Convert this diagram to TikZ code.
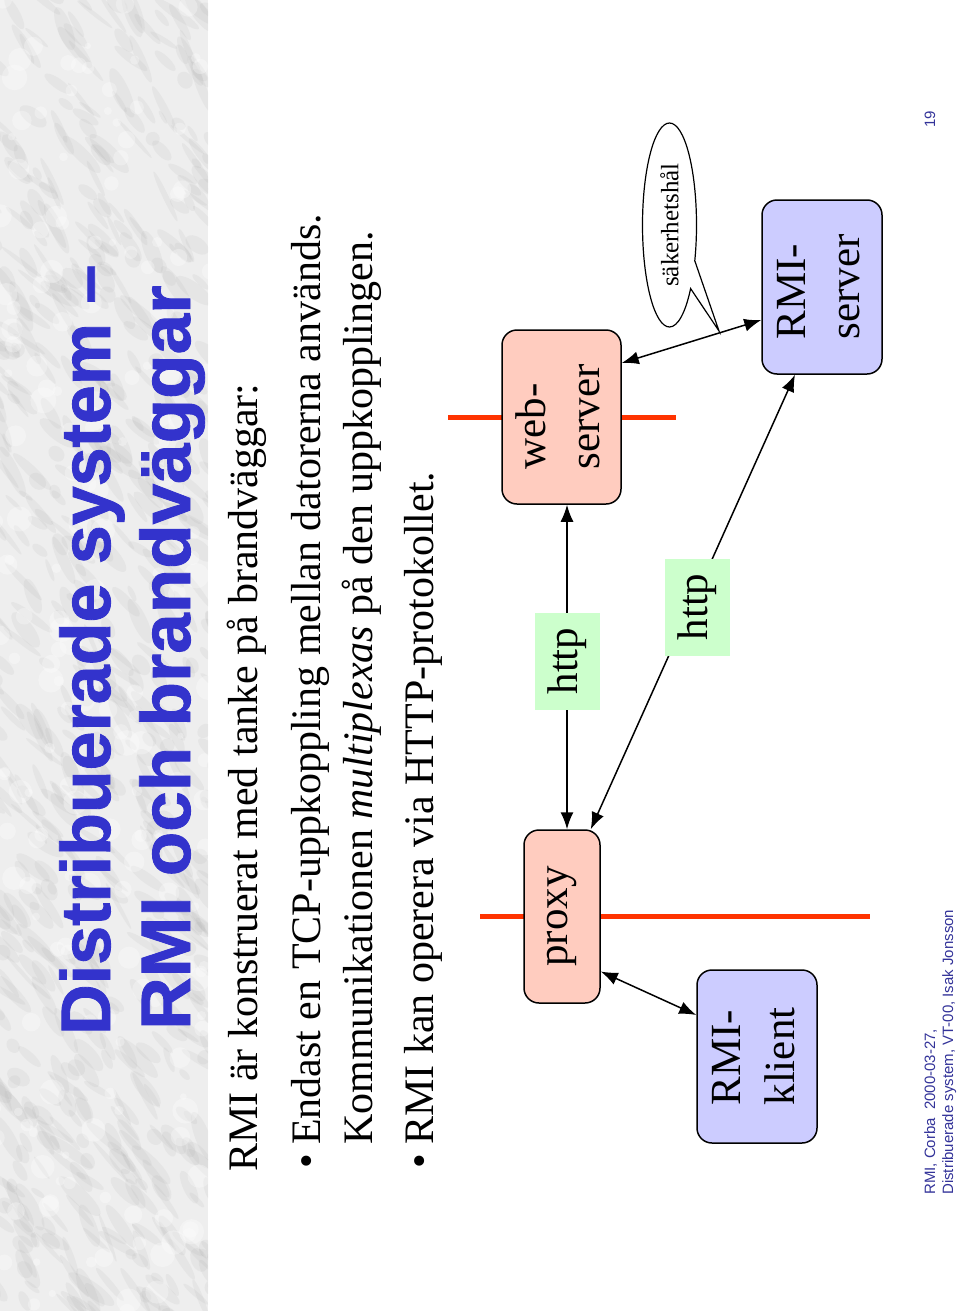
\documentclass[tikz,border=0pt]{standalone}
\usepackage{fontspec}
\setmainfont{Liberation Serif}
\newfontfamily\sansf{Liberation Sans}
\newfontfamily\titlef[FakeBold=1.2]{Liberation Sans Bold}
\usetikzlibrary{arrows.meta,shapes.callouts,calc}
\definecolor{titleblue}{HTML}{3333CC}
\definecolor{footblue}{HTML}{333399}
\definecolor{pinkbox}{HTML}{FFCCBF}
\definecolor{lavbox}{HTML}{CCCCFF}
\definecolor{greenbox}{HTML}{CCFFCC}
\definecolor{fwred}{HTML}{FF3300}
\pgfdeclarelayer{bg}
\pgfsetlayers{bg,main}
\tikzset{
  titletext/.style={inner sep=0pt, text=titleblue, font=\titlef\fontsize{70}{70}\selectfont},
  bodytext/.style={inner sep=0pt, font=\fontsize{42}{42}\selectfont},
  foottext/.style={inner sep=0pt, text=footblue, font=\sansf\fontsize{15}{18}\selectfont},
  boxbase/.style={draw=black, line width=1.5pt, rounded corners=15pt, inner sep=0pt, font=\fontsize{43}{54}\selectfont},
  pinknode/.style={boxbase, fill=pinkbox},
  lavnode/.style={boxbase, fill=lavbox},
  httpnode/.style={fill=greenbox, inner sep=0pt, minimum width=65pt, minimum height=97pt, font=\fontsize{43}{54}\selectfont},
  conn/.style={line width=1.5pt, {Latex[length=17pt,width=13pt]}-{Latex[length=17pt,width=13pt]}},
  firewall/.style={line width=5pt, fwred},
}
\begin{document}
\begin{tikzpicture}[x=1pt,y=-1pt]
\path[use as bounding box] (0,0) rectangle (960,1311);
% marble band
\begin{scope}
\clip (0,0) rectangle (208,1311);
\fill[gray!13] (0,0) rectangle (208,1311);
\pgfmathsetseed{11}
\foreach \i in {1,...,700}{
  \pgfmathsetmacro\xa{rnd*230-10}
  \pgfmathsetmacro\ya{rnd*1330-10}
  \pgfmathsetmacro\rx{2+rnd*6}
  \pgfmathsetmacro\ry{6+rnd*22}
  \pgfmathsetmacro\rot{20+rnd*40}
  \fill[gray!60, opacity=0.14, rotate around={\rot:(\xa,\ya)}] (\xa,\ya) ellipse[x radius=\rx pt, y radius=\ry pt];
}
\foreach \i in {1,...,200}{
  \pgfmathsetmacro\xa{rnd*220-5}
  \pgfmathsetmacro\ya{rnd*1320-5}
  \pgfmathsetmacro\rr{3+rnd*10}
  \fill[white, opacity=0.3] (\xa,\ya) circle[radius=\rr pt];
}
\end{scope}
% title
\node[titletext, anchor=base west, rotate=90] (t1) at (110,1035) {\scalebox{1.0}[1]{Distribuerade system –}};
\node[titletext, anchor=base west, rotate=90] (t2) at (190,1030) {\scalebox{1.04}[1]{RMI och brandväggar}};
% body
\node[bodytext, anchor=base west, rotate=90] (l1) at (257,1172) {RMI är konstruerat med tanke på brandväggar:};
\node[bodytext, anchor=base west, rotate=90] (l2) at (320,1145) {\makebox[0pt][r]{\textbullet\hspace{9pt}}Endast en TCP-uppkoppling mellan datorerna används.};
\node[bodytext, anchor=base west, rotate=90] (l3) at (372,1145) {Kommunikationen \textit{multiplexas} på den uppkopplingen.};
\node[bodytext, anchor=base west, rotate=90] (l4) at (433,1145) {\makebox[0pt][r]{\textbullet\hspace{9pt}}RMI kan operera via HTTP-protokollet.};
% firewalls
\coordinate (fw1a) at (480,916);
\coordinate (fw1b) at (870,916);
\coordinate (fw2a) at (448,417);
\coordinate (fw2b) at (676,417);
\draw[firewall] (fw1a) -- (fw1b);
\draw[firewall] (fw2a) -- (fw2b);
% boxes
\node[pinknode, minimum width=76pt, minimum height=173pt] (proxy) at (562,916.5) {\rotatebox{90}{proxy}};
\node[pinknode, minimum width=119pt, minimum height=174pt] (web) at (561.5,417) {\rotatebox{90}{\begin{tabular}{@{}l@{}}web-\\server\end{tabular}}};
\node[lavnode, minimum width=120pt, minimum height=174pt] (rmis) at (822,287) {\rotatebox{90}{\begin{tabular}{@{}l@{}}RMI-\\server\end{tabular}}};
\node[lavnode, minimum width=120pt, minimum height=173pt] (rmik) at (757,1056.5) {\rotatebox{90}{\begin{tabular}{@{}l@{}}RMI-\\klient\end{tabular}}};
\node[httpnode] (http1) at (567,661) {\rotatebox{90}{http}};
\node[httpnode] (http2) at (697,607) {\rotatebox{90}{http}};
% connectors
\begin{pgfonlayer}{bg}
\draw[conn] (proxy.north -| http1.center) -- (web.south -| http1.center);
\draw[conn] ([xshift=-10pt]proxy.north east) -- ([xshift=-27pt]rmis.south);
\end{pgfonlayer}
\draw[conn] ([yshift=54pt]web.east) -- ([yshift=-33pt]rmis.west);
\draw[conn] ([yshift=-55pt]proxy.east) -- ([yshift=41.5pt]rmik.west);
% callout
\node[ellipse callout, draw=black, fill=white, line width=1.2pt, inner sep=0pt,
      minimum width=54pt, minimum height=204pt, callout absolute pointer={(719,331)},
      callout pointer arc=18, font=\fontsize{25}{25}\selectfont] (bubble) at (669.5,225) {\rotatebox{90}{säkerhetshål}};
% footer
\node[foottext, anchor=base west, rotate=90] (pg) at (935,128) {19};
\node[foottext, anchor=base west, rotate=90, align=left] (f1) at (935,1195) {RMI, Corba\ \ 2000-03-27,};
\node[foottext, anchor=base west, rotate=90] (f2) at (953,1195) {Distribuerade system, VT-00, Isak Jonsson};
\end{tikzpicture}
\end{document}
